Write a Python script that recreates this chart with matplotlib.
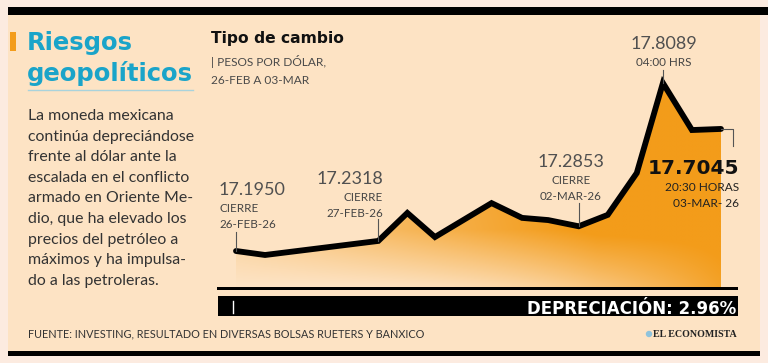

# tipo de cambio peso/dólar, 26-feb a 03-mar
# gráfico de área con anotaciones, estilo infografía

import numpy as np
import matplotlib
matplotlib.use("Agg")
import matplotlib.pyplot as plt
from matplotlib.colors import to_rgb

# posiciones en el eje horizontal (unidades de tiempo aproximadas)
posiciones = [0, 1, 4.9, 5.9, 6.85, 8.8, 9.85, 10.75, 11.8, 12.8, 13.8, 14.7, 15.7, 16.7]
# pesos por dólar
valores = [17.1950, 17.1804, 17.2318, 17.334, 17.246, 17.370, 17.316,
           17.308, 17.2853, 17.327, 17.480, 17.8089, 17.637, 17.641]

# índices de puntos anotados y sus textos
idx_anotados = [0, 2, 8, 11]
cifras = ["17.1950", "17.2318", "17.2853", "17.8089"]
subtitulos = [["CIERRE", "26-FEB-26"], ["CIERRE", "27-FEB-26"],
              ["CIERRE", "02-MAR-26"], ["04:00 HRS"]]
cifra_final = "17.7045"
sub_final = ["20:30 HORAS", "03-MAR- 26"]

texto_cuerpo = [
    "La moneda mexicana",
    "continúa depreciándose",
    "frente al dólar ante la",
    "escalada en el conflicto",
    "armado en Oriente Me-",
    "dio, que ha elevado los",
    "precios del petróleo a",
    "máximos y ha impulsa-",
    "do a las petroleras.",
]

W, H = 768, 363
FONDO = "#fde3c4"
FONDO_EXT = "#fcebe0"
NARANJA = "#f39c1a"
CIAN = "#1aa4c9"
GRIS = "#4a4a4a"
FUENTE = "Lato"
NEGRITA = "DejaVu Sans"

fig = plt.figure(figsize=(W / 100, H / 100), dpi=100, facecolor=FONDO_EXT)

# capa de fondo en coordenadas de píxel
bg = fig.add_axes([0, 0, 1, 1])
bg.set_xlim(0, W)
bg.set_ylim(H, 0)
bg.axis("off")
bg.add_patch(plt.Rectangle((8, 14), 752, 337, color=FONDO, lw=0))
bg.add_patch(plt.Rectangle((8, 7), 760, 8, color="black", lw=0))
bg.add_patch(plt.Rectangle((8, 351), 752, 5, color="black", lw=0))

# columna izquierda
bg.add_patch(plt.Rectangle((10, 32), 6, 19, color=NARANJA, lw=0))
bg.text(27, 50, "Riesgos", fontsize=17.5, fontweight="bold", color=CIAN,
        family=NEGRITA, va="baseline")
bg.text(27, 81, "geopolíticos", fontsize=17.5, fontweight="bold", color=CIAN,
        family=NEGRITA, va="baseline")
bg.plot([28, 193], [90, 90], color="#a9d3dc", lw=1)
for i, linea in enumerate(texto_cuerpo):
    bg.text(28, 120 + i * 20.6, linea, fontsize=11.4, color="#333333",
            family=FUENTE, va="baseline")

# títulos del gráfico
bg.text(211, 43, "Tipo de cambio", fontsize=11.2, fontweight="bold",
        color="#111111", family=NEGRITA, va="baseline")
bg.text(211, 66, "| PESOS POR DÓLAR,", fontsize=8.6, color=GRIS,
        family=FUENTE, va="baseline")
bg.text(211, 84, "26-FEB A 03-MAR", fontsize=8.6, color=GRIS,
        family=FUENTE, va="baseline")

# barra inferior
bg.add_patch(plt.Rectangle((217, 287), 521, 3, color="black", lw=0))
bg.add_patch(plt.Rectangle((218, 296), 520, 20, color="black", lw=0))
bg.plot([233, 233], [301, 313], color="white", lw=1)
bg.text(736, 313.5, "DEPRECIACIÓN: 2.96%", fontsize=12, fontweight="bold",
        color="white", family=NEGRITA, ha="right", va="baseline")

# pie
bg.text(28, 337, "FUENTE: INVESTING, RESULTADO EN DIVERSAS BOLSAS RUETERS Y BANXICO",
        fontsize=7.8, color="#333333", family=FUENTE, va="baseline")
bg.add_patch(plt.Circle((649, 334), 3.2, color="#8fc3dc", lw=0))
bg.text(737, 337, "EL ECONOMISTA", fontsize=7.2, fontweight="bold",
        color="#222222", family="Liberation Serif", ha="right", va="baseline")

# ejes del gráfico: x 217..740 px, y 40..290 px
ax = fig.add_axes([217 / W, 1 - 290 / H, (740 - 217) / W, 250 / H])
ax.axis("off")
px_x = 29.04
ax.set_xlim(-19 / px_x, posiciones[-1] + 19 / px_x)
esc = 0.003654
ax.set_ylim(valores[0] - 39 * esc, valores[0] + 211 * esc)
base = valores[0] - 36 * esc

# degradado recortado por el área
x0, x1 = ax.get_xlim()
y0, y1 = ax.get_ylim()
nx, ny = 300, 200
gx = np.linspace(0, 1, nx)
gy = np.linspace(0, 1, ny)  # 0 abajo, 1 arriba
GX, GY = np.meshgrid(gx, gy)
t = np.clip(0.2 + 1.1 * GX, 0, 1)
fade = np.clip((GY - 0.02) / 0.22, 0, 1)
t = t * (fade + (1 - fade) * GX ** 2.5)
t = np.clip(t + 0.35 * GY * GX, 0, 1)
c_bg = np.array(to_rgb(FONDO))
c_or = np.array(to_rgb(NARANJA))
img = c_bg[None, None, :] * (1 - t[..., None]) + c_or[None, None, :] * t[..., None]
poly = ax.fill_between(posiciones, valores, base, facecolor="none", edgecolor="none")
im = ax.imshow(img, extent=(x0, x1, y0, y1), origin="lower", aspect="auto",
               interpolation="bilinear", zorder=1)
im.set_clip_path(poly.get_paths()[0], transform=ax.transData)
ax.set_xlim(x0, x1)
ax.set_ylim(y0, y1)

ax.plot(posiciones, valores, color="black", lw=4.2, solid_joinstyle="miter",
        solid_capstyle="round", zorder=3)

# capa superior para las anotaciones
top = fig.add_axes([0, 0, 1, 1])
top.set_xlim(0, W)
top.set_ylim(H, 0)
top.axis("off")
top.patch.set_alpha(0)


def a_px(x, y):
    d = ax.transData.transform((x, y))
    f = top.transData.inverted().transform(d)
    return f[0], f[1]


conf = [  # (ha, x texto, baseline cifra, arriba del conector)
    ("left", 219, 195, 232),
    ("right", 383, 184, 219),
    ("center", 571, 167, 203),
    ("center", 664, 49, 70),
]
for k, (i, cifra, subs) in enumerate(zip(idx_anotados, cifras, subtitulos)):
    ha, tx, yb, ytop = conf[k]
    px, py = a_px(posiciones[i], valores[i])
    top.plot([px, px], [ytop, py], color="#555555", lw=0.8, zorder=2)
    top.text(tx, yb, cifra, fontsize=13, color="#505050", family=FUENTE,
             ha=ha, va="baseline")
    for j, s in enumerate(subs):
        top.text(tx, yb + 17 + j * 16, s, fontsize=8.4, color="#444444",
                 family=FUENTE, ha=ha, va="baseline")

px, py = a_px(posiciones[-1], valores[-1])
top.plot([px, 733, 733], [py, py, 146], color="#555555", lw=0.8)
top.text(739, 174, cifra_final, fontsize=14.5, fontweight="bold", color="#111111",
         family=NEGRITA, ha="right", va="baseline")
for j, s in enumerate(sub_final):
    top.text(739, 191 + j * 16, s, fontsize=8.6, color="#222222", family=FUENTE,
             ha="right", va="baseline")

fig.savefig("out.png", dpi=100, facecolor=fig.get_facecolor())
